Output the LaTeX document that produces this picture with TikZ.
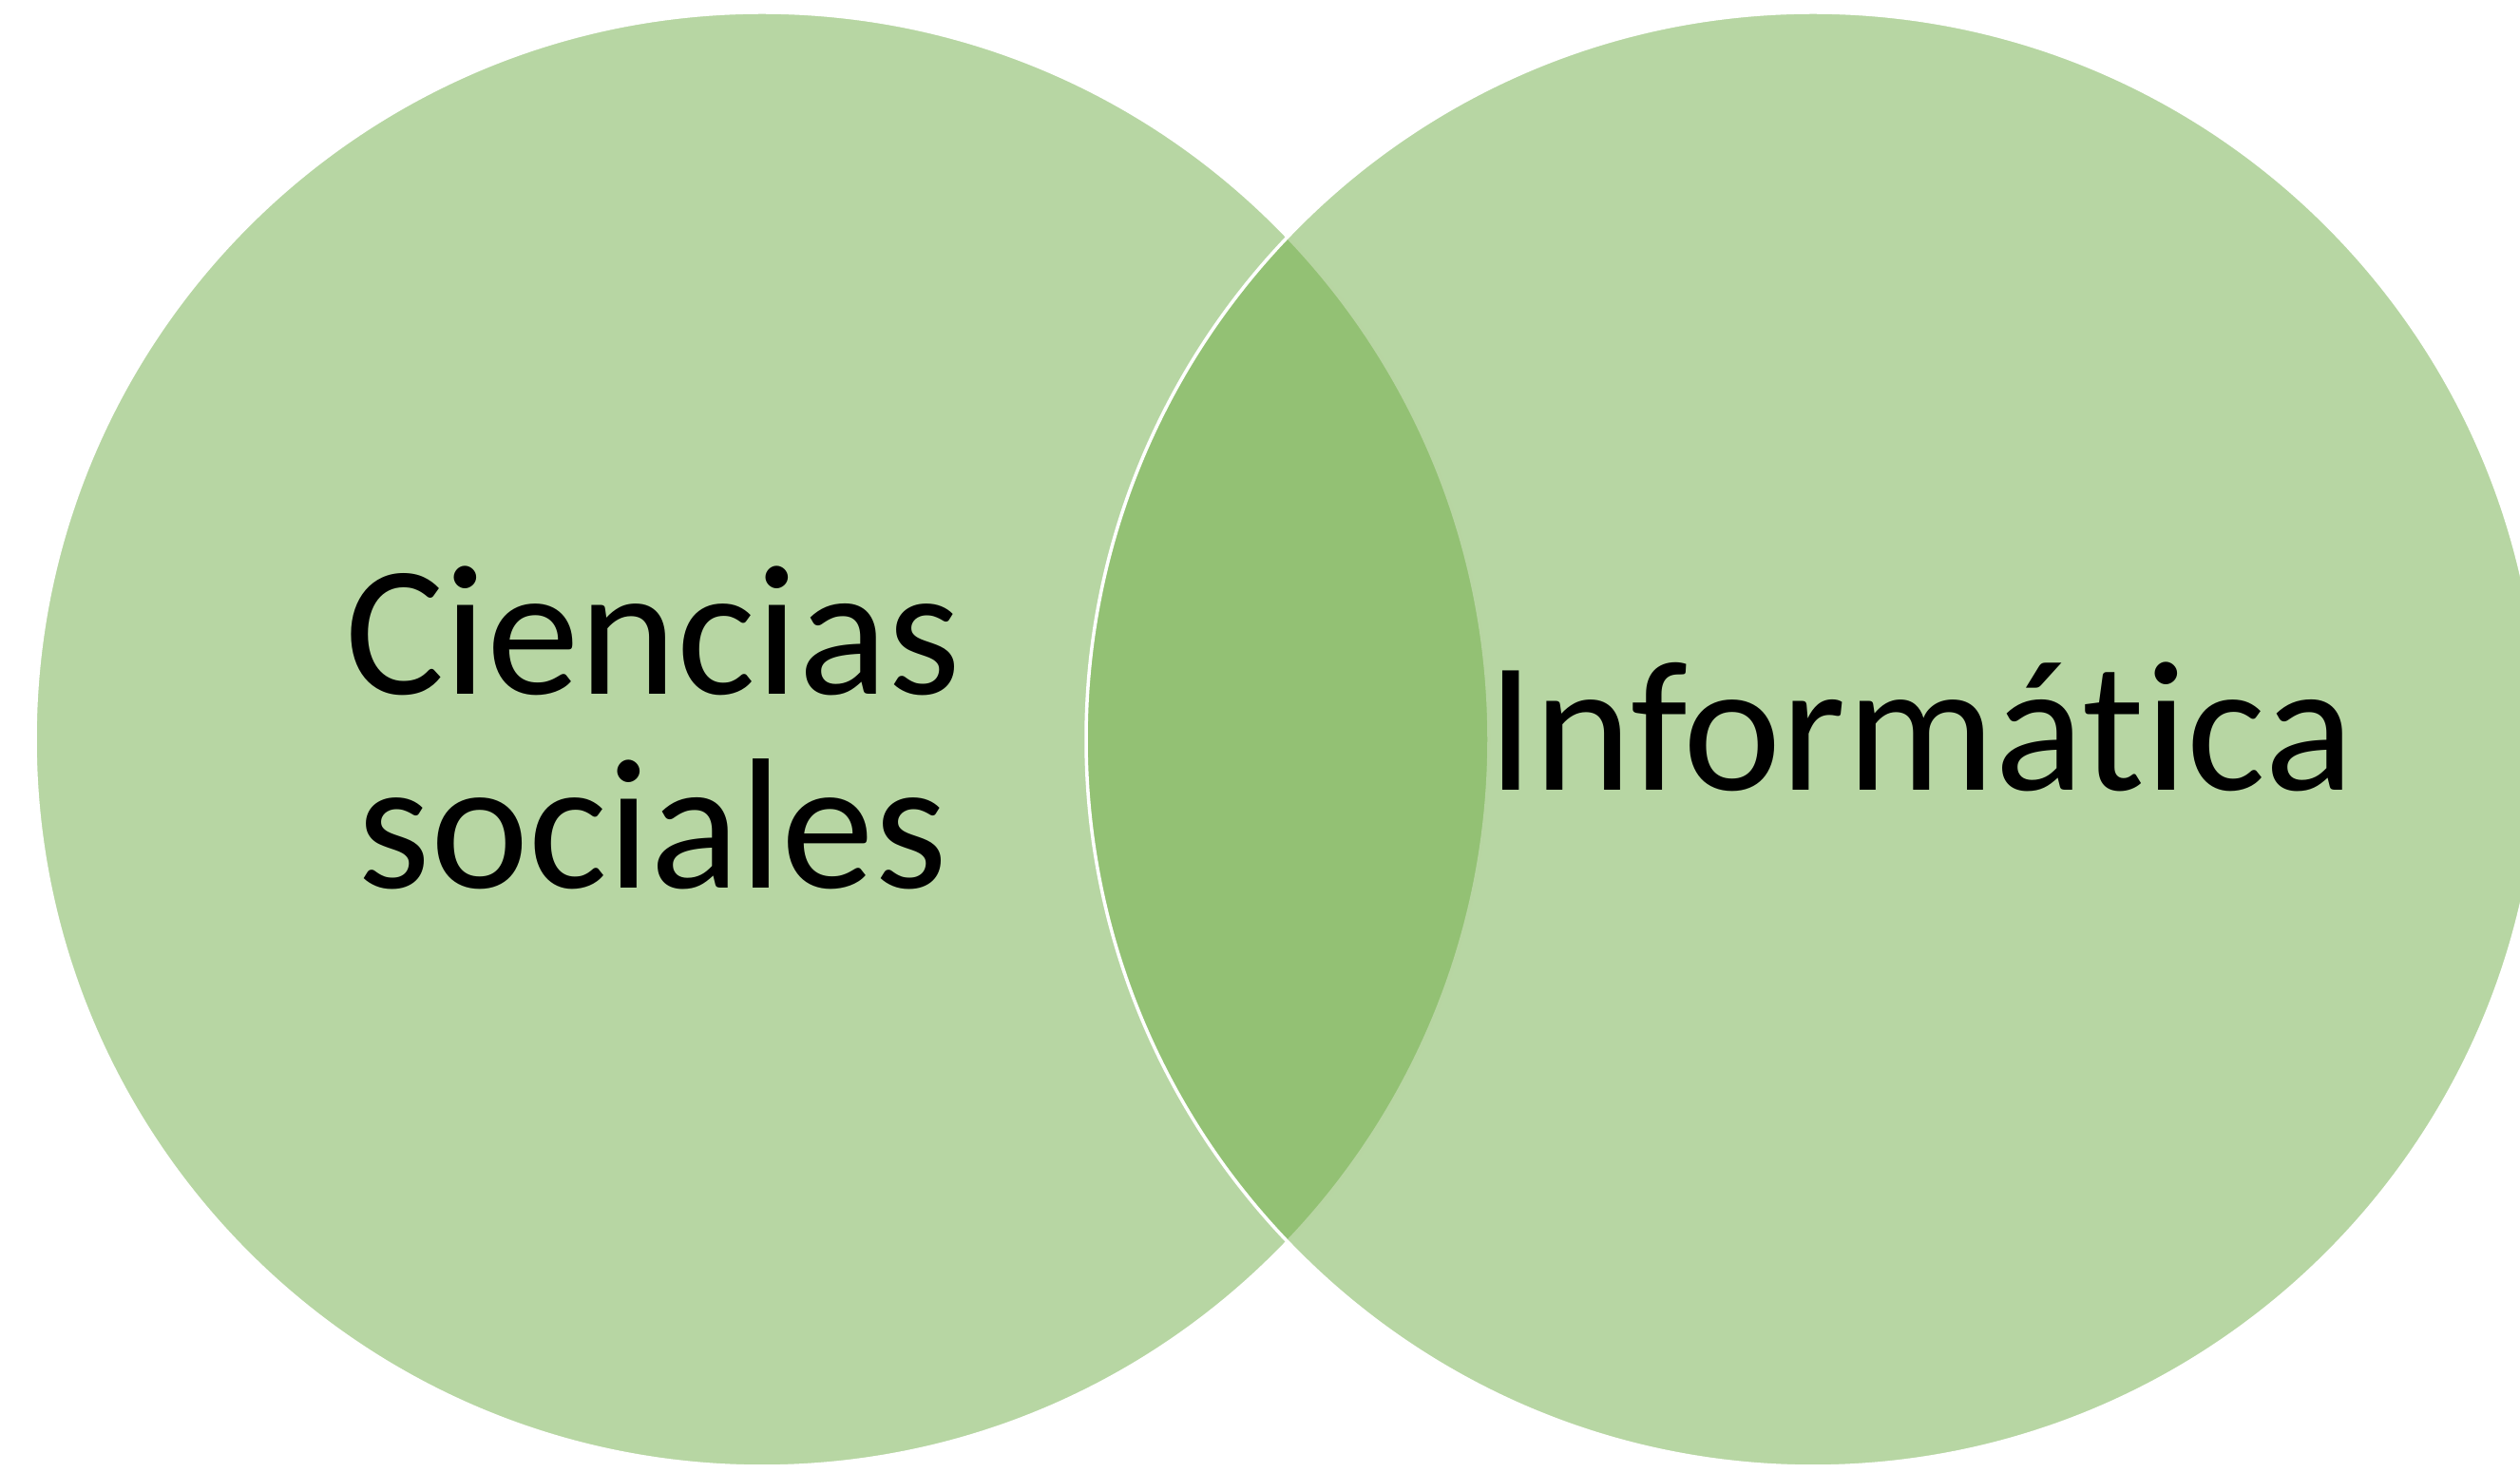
\documentclass[tikz,border=0pt]{standalone}
\usepackage{fontspec}
\setmainfont{Carlito}[Ligatures=NoCommon]
\usetikzlibrary{shapes}

\definecolor{vgreen}{HTML}{70AD47}

\begin{document}
\begin{tikzpicture}[venn/.style={circle,draw=white,line width=1pt,fill=vgreen,
            fill opacity=0.5,minimum size=15.3cm,inner sep=0pt},
            word/.style={font=\fontsize{55.7}{58.2}\selectfont,align=center,
            inner sep=0pt,anchor=base}]
            \useasboundingbox (0,0) rectangle (26.52,15.5);
            \clip (0,0) rectangle (26.52,15.5);
            \node[venn] (cs) at (8.02,7.72) {};
            \node[venn] (inf) at (19.08,7.72) {};

            \node[word] (cslabel) at (6.87,6.15) {Ciencias\\sociales};
            \node[word] (inflabel) at (20.21,7.18) {Informática};
        \end{tikzpicture}
\end{document}
